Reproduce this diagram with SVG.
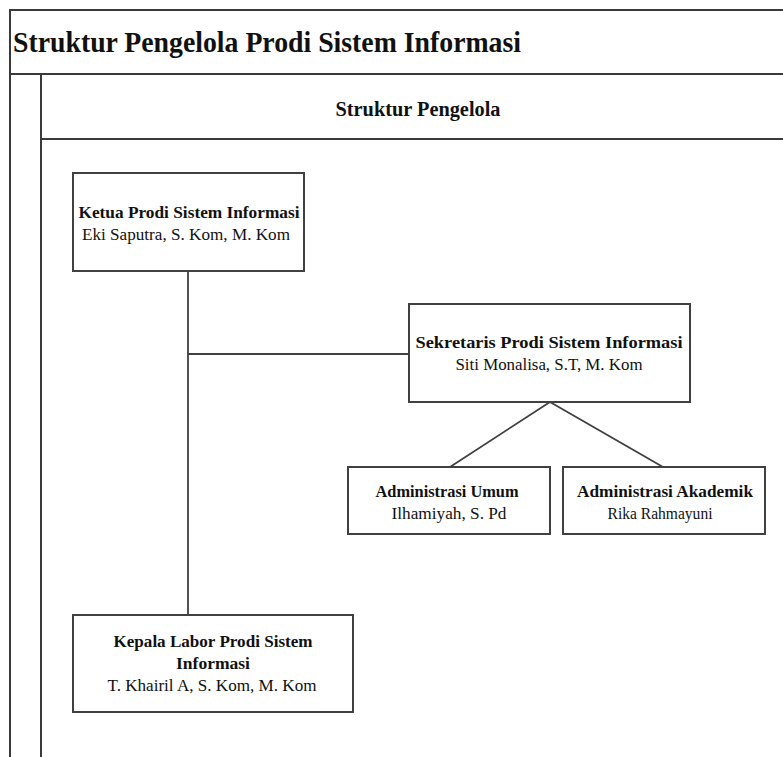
<svg xmlns="http://www.w3.org/2000/svg" width="783" height="757" viewBox="0 0 783 757">
<style>
.frame{fill:none;stroke:#3a3a3a;stroke-width:2}
.box{fill:#fff;stroke:#404040;stroke-width:2}
.conn{fill:none;stroke:#404040;stroke-width:1.8}
text{font-family:"Liberation Serif","Times New Roman",serif;fill:#111;text-anchor:middle}
.b{font-weight:bold;font-size:16px}
.r{font-size:16px}
</style>
<rect width="783" height="757" fill="#fff"/>
<g id="pool">
<path class="frame" d="M783 10H10V757M10 74H783M41 74V757M41 139H783"/>
<text x="13" y="52" style="font-size:30px;font-weight:bold;text-anchor:start" textLength="508" lengthAdjust="spacingAndGlyphs">Struktur Pengelola Prodi Sistem Informasi</text>
<text x="418" y="116" style="font-size:20px;font-weight:bold" textLength="165" lengthAdjust="spacingAndGlyphs">Struktur Pengelola</text>
</g>
<g id="connectors">
<path class="conn" d="M188 271V615M188 354H409M550 402L450 467M550 402L663 467"/>
</g>
<g id="ketua">
<rect class="box" x="73" y="173" width="231" height="98"/>
<text class="b" x="189" y="218" textLength="221" lengthAdjust="spacingAndGlyphs">Ketua Prodi Sistem Informasi</text>
<text class="r" x="186" y="240" textLength="208" lengthAdjust="spacingAndGlyphs">Eki Saputra, S. Kom, M. Kom</text>
</g>
<g id="sekretaris">
<rect class="box" x="409" y="304" width="281" height="98"/>
<text class="b" x="549" y="348" textLength="267" lengthAdjust="spacingAndGlyphs">Sekretaris Prodi Sistem Informasi</text>
<text class="r" x="549" y="370" textLength="187" lengthAdjust="spacingAndGlyphs">Siti Monalisa, S.T, M. Kom</text>
</g>
<g id="admin-umum">
<rect class="box" x="348" y="467" width="202" height="67"/>
<text class="b" x="447" y="497" textLength="143" lengthAdjust="spacingAndGlyphs">Administrasi Umum</text>
<text class="r" x="449" y="519" textLength="115" lengthAdjust="spacingAndGlyphs">Ilhamiyah, S. Pd</text>
</g>
<g id="admin-akademik">
<rect class="box" x="563" y="467" width="202" height="67"/>
<text class="b" x="665" y="497" textLength="176" lengthAdjust="spacingAndGlyphs">Administrasi Akademik</text>
<text class="r" x="660" y="519" textLength="105" lengthAdjust="spacingAndGlyphs">Rika Rahmayuni</text>
</g>
<g id="kepala-labor">
<rect class="box" x="73" y="615" width="280" height="97"/>
<text class="b" x="213" y="647" textLength="199" lengthAdjust="spacingAndGlyphs">Kepala Labor Prodi Sistem</text>
<text class="b" x="213" y="669" textLength="74" lengthAdjust="spacingAndGlyphs">Informasi</text>
<text class="r" x="212" y="691" textLength="209" lengthAdjust="spacingAndGlyphs">T. Khairil A, S. Kom, M. Kom</text>
</g>
</svg>
